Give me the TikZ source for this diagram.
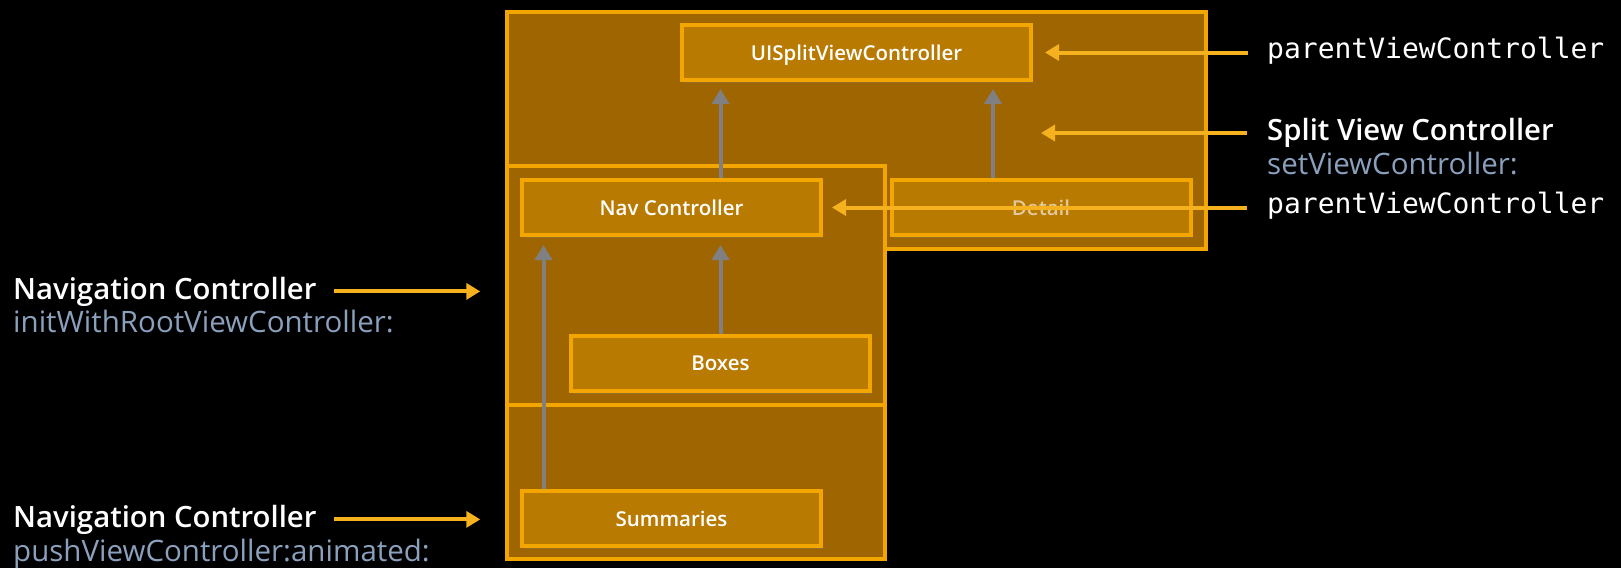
\documentclass[tikz,border=0pt]{standalone}
\usepackage{fontspec}
\setmainfont{Open Sans}[BoldFont={Open Sans Semibold}]
\setmonofont{DejaVu Sans Mono}
\usetikzlibrary{arrows.meta,positioning,shadows}
\definecolor{vcfill}{RGB}{184,122,0}
\definecolor{vcedge}{RGB}{243,165,0}
\definecolor{ctfill}{RGB}{158,101,0}
\definecolor{callout}{RGB}{245,178,30}
\definecolor{linkgray}{RGB}{128,128,130}
\definecolor{selcol}{RGB}{138,160,188}

\begin{document}
\begin{tikzpicture}[x=1pt,y=-1pt,
    container/.style={draw=vcedge, fill=ctfill, line width=3.5pt, inner sep=0pt},
    vcbox/.style={draw=vcedge, fill=vcfill, line width=4pt, inner sep=0pt,
      minimum width=299pt, minimum height=55pt, text=white, text depth=0pt,
      font=\fontsize{20.5}{24}\selectfont\bfseries,
      drop shadow={opacity=0.3, shadow xshift=2pt, shadow yshift=-3pt}},
    uplink/.style={draw=linkgray, line width=4pt, -{Triangle[width=17pt,length=15pt]}},
    callarrow/.style={draw=callout, line width=4pt, -{Triangle[width=16pt,length=14pt]}},
    head/.style={text=white, inner sep=0pt, font=\fontsize{29.3}{34}\selectfont\bfseries},
    sel/.style={text=selcol, inner sep=0pt, font=\fontsize{29.5}{34}\selectfont},
    prop/.style={text=white, inner sep=0pt, font=\fontsize{28}{34}\selectfont\ttfamily}]
    \fill[black] (0,0) rectangle (1621,568);
    \useasboundingbox (0,0) rectangle (1621,568);

    % containers
    \node[container, minimum width=699pt, minimum height=237pt] (split) at (856.5,130.5) {};
    \node[container, minimum width=378pt, minimum height=239pt] (navstack) at (696,285.5) {};
    \node[container, minimum width=378pt, minimum height=154pt] (pushed) at (696,482) {};

    % view controllers
    \node[vcbox, minimum width=349pt] (usplit) at (856.5,52.5) {UISplitViewController};
    \node[vcbox] (nav) at (671.5,207.5) {Nav Controller};
    \node[vcbox, text opacity=0.6] (detail) at (1041,207.5) {Detail};
    \node[vcbox] (boxes) at (720.5,363.5) {Boxes};
    \node[vcbox] (summaries) at (671.5,518.5) {Summaries};

    % parent links
    \draw[uplink, shorten >=7pt] (nav.north -| boxes.north) -- (usplit.south -| boxes.north);
    \draw[uplink, shorten >=7pt] ([xshift=-48pt]detail.north) -- ([xshift=-48pt]detail.north |- usplit.south);
    \draw[uplink, shorten >=8pt] (boxes.north) -- (boxes.north |- nav.south);
    \draw[uplink, shorten >=8pt] ([xshift=-128pt]summaries.north) -- ([xshift=-128pt]summaries.north |- nav.south);

    % labels on the right
    \node[prop, anchor=base west] (pvcTop) at (1267,58) {parentViewController};
    \node[head, anchor=base west] (svc) at (1267,140) {Split View Controller};
    \node[sel, anchor=base west] (svcSel) at ([yshift=-34pt]svc.base west) {setViewController:};
    \node[prop, anchor=base west] (pvcNav) at (1267,213) {parentViewController};
    \coordinate (svcTip) at (1041,133);

    \draw[callarrow, shorten <=19pt, shorten >=12pt] (pvcTop.west |- usplit.east) -- (usplit.east);
    \draw[callarrow, shorten <=20pt] (svc.west |- svcTip) -- (svcTip);
    \draw[callarrow, shorten <=20pt, shorten >=9pt] (pvcNav.west |- nav.east) -- (nav.east);

    % labels on the left
    \node[head, anchor=base west] (ncInit) at (13,299) {Navigation Controller};
    \node[sel, anchor=base west] (ncInitSel) at ([yshift=-33pt]ncInit.base west) {initWithRootViewController:};
    \node[head, anchor=base west] (ncPush) at (13,527) {Navigation Controller};
    \node[sel, anchor=base west] (ncPushSel) at ([yshift=-34pt]ncPush.base west) {pushViewController:animated:};

    \draw[callarrow, shorten <=17pt, shorten >=25pt] (ncInit.east) -- (ncInit.east -| navstack.west);
    \draw[callarrow, shorten <=17pt, shorten >=25pt] (ncPush.east) -- (ncPush.east -| pushed.west);
\end{tikzpicture}
\end{document}
